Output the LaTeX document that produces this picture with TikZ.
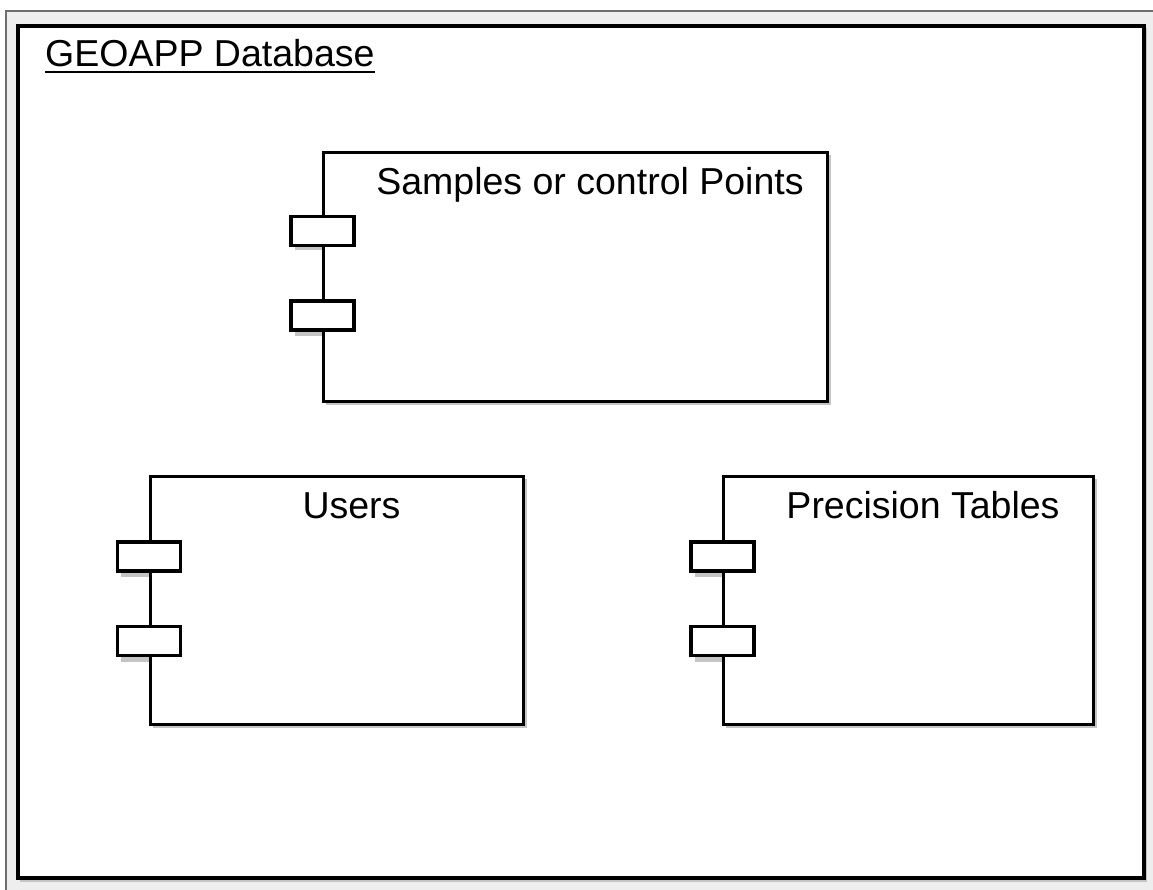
\documentclass[tikz,border=0pt]{standalone}
\usepackage{fontspec}
\setmainfont{Liberation Sans}
\definecolor{outerbg}{HTML}{EEEEEE}
\definecolor{outerline}{HTML}{6E6E6E}
\definecolor{shadowc}{HTML}{C4C4C4}
\tikzset{
  comp/.style={draw=black, line width=3.2pt, fill=white, rectangle, inner sep=0pt, anchor=north west},
  port/.style={draw=black, line width=3.2pt, fill=white, rectangle, inner sep=0pt, minimum width=63pt, minimum height=29pt},
  lbl/.style={font=\fontsize{37.5}{42}\selectfont, inner sep=0pt, anchor=base},
}
\begin{document}
\begin{tikzpicture}[x=1pt,y=-1pt]
\useasboundingbox (0,0) rectangle (1153,890);
% outer window
\fill[outerbg] (5,10) rectangle (1153,890);
\draw[outerline, line width=2pt] (6,890) -- (6,11) -- (1153,11);
% frame shadow + frame
\fill[shadowc] (20,28) rectangle (1147,882);
\node[comp, line width=3.6pt, minimum width=1126pt, minimum height=852pt] (frame) at (16,24) {};
\node[font=\fontsize{37.5}{42}\selectfont, inner sep=0pt, anchor=base west] (title) at (45,67) {GEOAPP Database};
\draw[line width=2.8pt] ([yshift=-5pt]title.base west) -- ([yshift=-5pt]title.base east);

% ---------- Samples
\fill[shadowc] (326,155) rectangle (831,405);
\fill[shadowc] (295,221) rectangle (358,250);
\fill[shadowc] (295,304) rectangle (358,336);
\node[comp, minimum width=504pt, minimum height=249pt] (samples) at (322,151) {};
\node[port] (sp1) at (322.5,231) {};
\node[port] (sp2) at (322.5,315.5) {};
\node[lbl] (st) at (590,195) {Samples or control Points};

% ---------- Users
\fill[shadowc] (153,479) rectangle (527,728);
\fill[shadowc] (121,545) rectangle (185,577);
\fill[shadowc] (121,629) rectangle (185,662);
\node[comp, minimum width=373pt, minimum height=248pt] (users) at (149,475) {};
\node[port] (up1) at (149,556.5) {};
\node[port] (up2) at (149,641) {};
\node[lbl] (ut) at (351.5,518) {Users};

% ---------- Precision Tables
\fill[shadowc] (726,479) rectangle (1097,728);
\fill[shadowc] (695,545) rectangle (758,577);
\fill[shadowc] (695,629) rectangle (758,662);
\node[comp, minimum width=370pt, minimum height=248pt] (prec) at (722,475) {};
\node[port] (pp1) at (722.5,556.5) {};
\node[port] (pp2) at (722.5,641) {};
\node[lbl] (pt) at (923,518) {Precision Tables};
\end{tikzpicture}
\end{document}
